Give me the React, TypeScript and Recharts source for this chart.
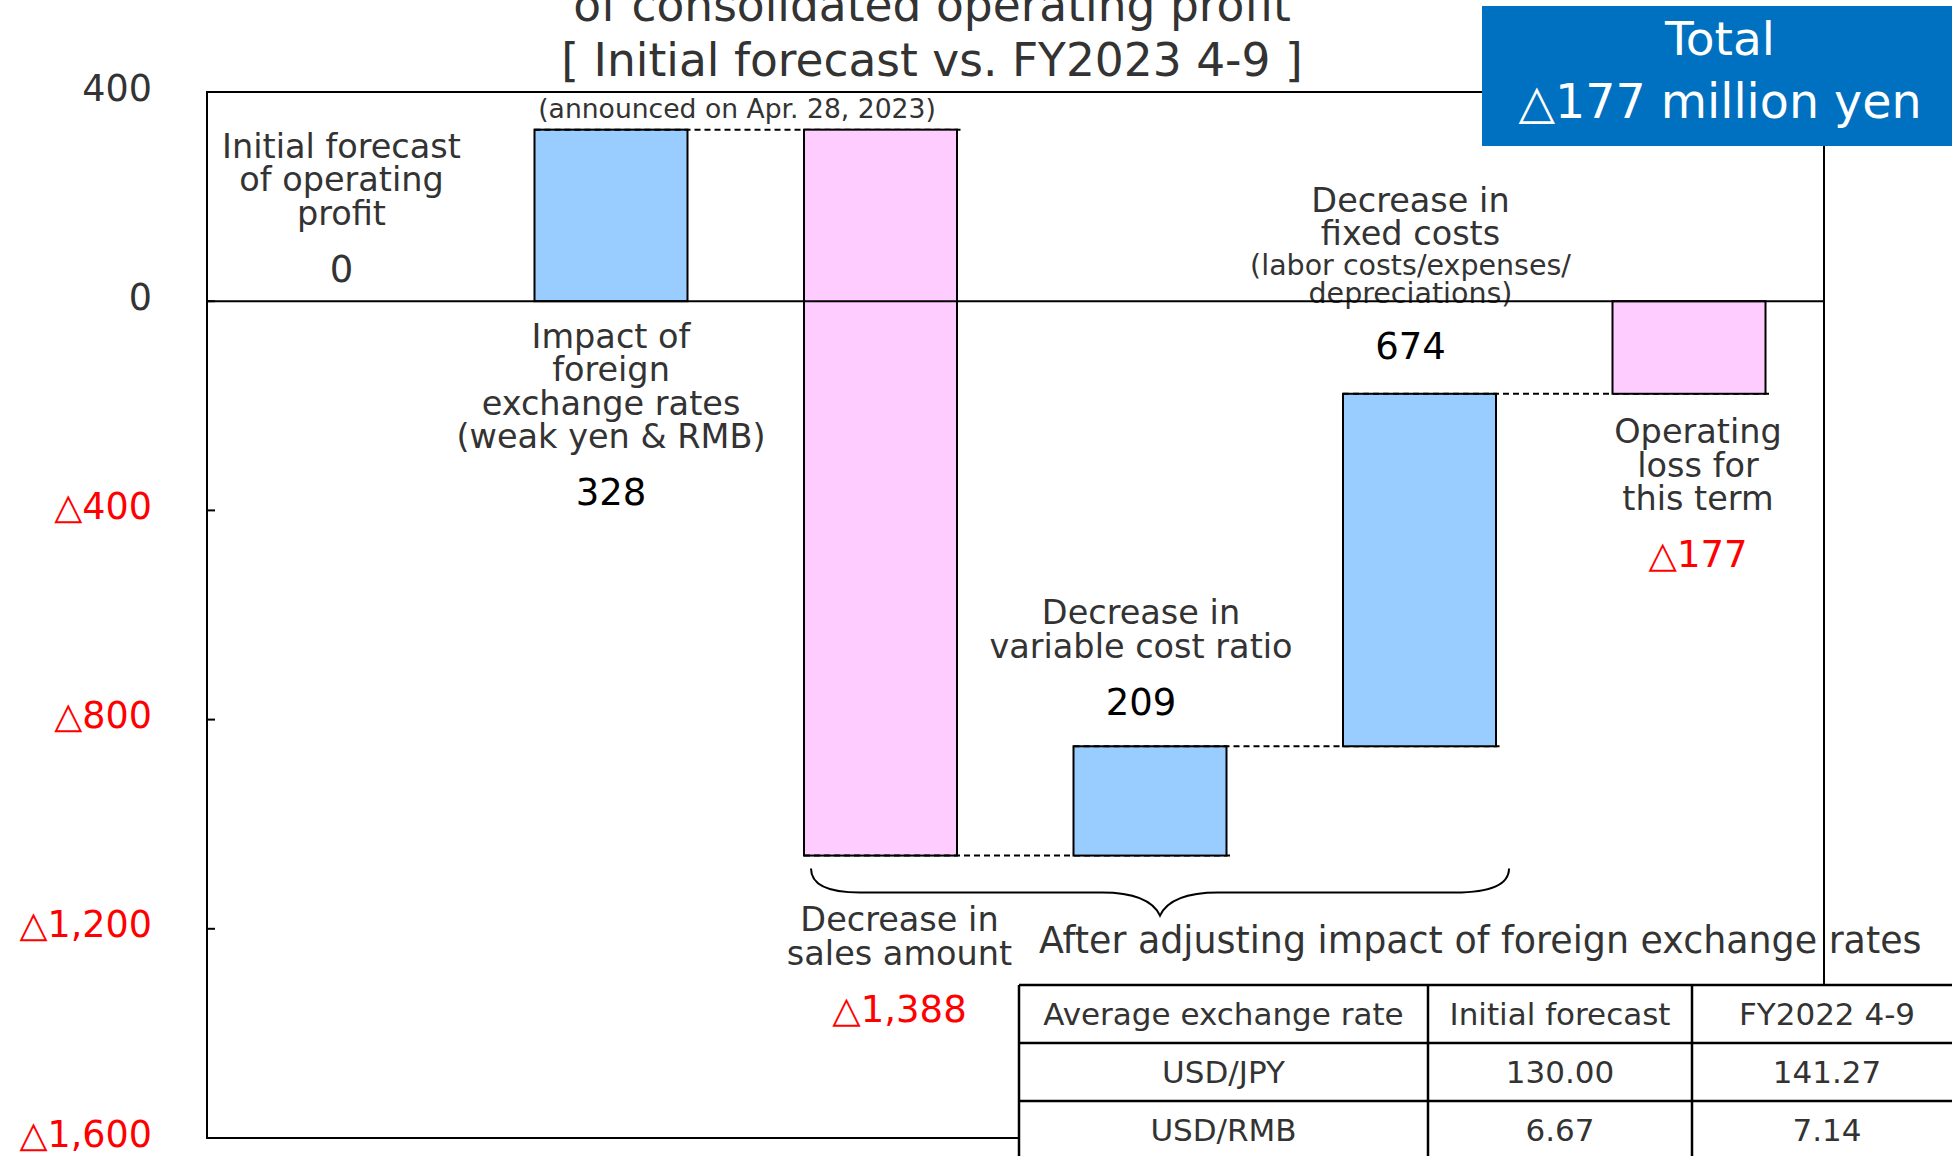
import { Bar, BarChart, ReferenceArea, ReferenceLine, XAxis, YAxis } from "recharts";

// waterfall steps: first and last are totals, the rest are changes
const categories = [
  "Initial forecast",
  "Foreign exchange",
  "Sales amount",
  "Variable cost ratio",
  "Fixed costs",
  "Operating loss",
];
const kinds = ["total", "delta", "delta", "delta", "delta", "total"];
const amounts = [0, 328, -1388, 209, 674, -177];

const labelLines = [
  ["Initial forecast", "of operating", "profit"],
  ["Impact of", "foreign", "exchange rates", "(weak yen & RMB)"],
  ["Decrease in", "sales amount"],
  ["Decrease in", "variable cost ratio"],
  ["Decrease in", "fixed costs"],
  ["Operating", "loss for", "this term"],
];
const noteLines = [[], [], [], [], ["(labor costs/expenses/", "depreciations)"], []];
const labelSide = ["above", "below", "below", "above", "above", "below"];

const yTicks = [400, 0, -400, -800, -1200, -1600];

const titleLines = ["of consolidated operating profit", "[ Initial forecast vs. FY2023 4-9 ]"];
const announced = "(announced on Apr. 28, 2023)";
const braceText = "After adjusting impact of foreign exchange rates";

const rateHeader = ["Average exchange rate", "Initial forecast", "FY2022 4-9"];
const ratePairs = ["USD/JPY", "USD/RMB"];
const rateForecast = ["130.00", "6.67"];
const rateActual = ["141.27", "7.14"];

// layout
const W = 1952;
const H = 1156;
const PLOT_LEFT = 207;
const PLOT_RIGHT = 1824;
const AXIS_W = 200;
const BAR_W = 153;
const STEP = (PLOT_RIGHT - PLOT_LEFT) / categories.length;
const labelGap = [32, 35, 64, 44, 47, 38];
const labelShift = [0, 0, 19, -9, -9, 9];

const FONT = "'DejaVu Sans', Verdana, sans-serif";
const GRAY = "#333333";
const RED = "#FF0000";
const BLUE = "#99CCFF";
const PINK = "#FFCCFF";

const fmt = (v: number) => (v < 0 ? "△" + Math.abs(v).toLocaleString("en-US") : String(v));

let running = 0;
const data = categories.map((name, i) => {
  let low: number;
  let high: number;
  if (kinds[i] === "total") {
    low = Math.min(0, amounts[i]);
    high = Math.max(0, amounts[i]);
    running = amounts[i];
  } else {
    const start = running;
    running += amounts[i];
    low = Math.min(start, running);
    high = Math.max(start, running);
  }
  return { name, amount: amounts[i], range: [low, high] };
});

function AxisTick(props: any) {
  const { x, y, payload } = props;
  const v = payload.value as number;
  return (
    <g>
      <line x1={x + 55} x2={x + 63} y1={y} y2={y} stroke="#000" strokeWidth={2} />
      <text
        x={x}
        y={y - 4}
        textAnchor="end"
        dominantBaseline="central"
        fontFamily={FONT}
        fontSize={36.5}
        fill={v < 0 ? RED : GRAY}
      >
        {fmt(v)}
      </text>
    </g>
  );
}

function StepLabels({ index, cx, top, bottom }: { index: number; cx: number; top: number; bottom: number }) {
  const amount = amounts[index];
  const valueColor = amount > 0 ? "#000" : amount < 0 ? RED : GRAY;
  const items: { text: string; y: number; size: number; color: string }[] = [];
  const lines = labelLines[index];
  const notes = noteLines[index];

  if (labelSide[index] === "above") {
    let cy = top - labelGap[index];
    items.push({ text: fmt(amount), y: cy, size: 37, color: valueColor });
    cy -= notes.length ? 53 : 56;
    for (let k = notes.length - 1; k >= 0; k--) {
      items.push({ text: notes[k], y: cy, size: 28.5, color: GRAY });
      cy -= k === 0 ? 32 : 28;
    }
    for (let k = lines.length - 1; k >= 0; k--) {
      items.push({ text: lines[k], y: cy, size: 33.5, color: GRAY });
      cy -= 33.5;
    }
  } else {
    let cy = bottom + labelGap[index];
    lines.forEach((t, k) => {
      items.push({ text: t, y: cy, size: 33.5, color: GRAY });
      if (k < lines.length - 1) cy += 33.5;
    });
    cy += 56;
    items.push({ text: fmt(amount), y: cy, size: 37, color: valueColor });
  }

  return (
    <g>
      {items.map((it, k) => (
        <text
          key={k}
          x={cx}
          y={it.y}
          textAnchor="middle"
          dominantBaseline="central"
          fontFamily={FONT}
          fontSize={it.size}
          fill={it.color}
        >
          {it.text}
        </text>
      ))}
    </g>
  );
}

function WaterfallBar(props: any) {
  const { x, y, width, height, index } = props;
  const amount = amounts[index];
  const top = Math.min(y, y + height);
  const bottom = Math.max(y, y + height);

  // brace under the "after FX adjustment" steps (bars 2..4)
  let brace = null;
  if (index === 2) {
    const l = x + 7;
    const r = x + 2 * STEP + width + 13;
    const m = (l + r) / 2;
    const y0 = bottom + 13;
    const y1 = bottom + 37;
    const y2 = bottom + 60;
    brace = (
      <g>
        <path
          d={`M ${l} ${y0} Q ${l} ${y1} ${l + 49} ${y1} L ${m - 58} ${y1} Q ${m - 11} ${y1} ${m} ${y2} Q ${m + 11} ${y1} ${m + 58} ${y1} L ${r - 54} ${y1} Q ${r} ${y1} ${r} ${y0}`}
          fill="none"
          stroke="#000"
          strokeWidth={2}
        />
        <text x={m - 121} y={y2 + 37} fontFamily={FONT} fontSize={36.4} fill={GRAY}>
          {braceText}
        </text>
      </g>
    );
  }

  return (
    <g>
      {bottom - top > 0.5 && (
        <rect
          x={x}
          y={top}
          width={width}
          height={bottom - top}
          fill={amount > 0 ? BLUE : PINK}
          stroke="#000"
          strokeWidth={2}
        />
      )}
      {kinds[index] === "delta" && (
        <line
          x1={x}
          x2={x + STEP + width + 4}
          y1={amount > 0 ? top : bottom}
          y2={amount > 0 ? top : bottom}
          stroke="#000"
          strokeWidth={2}
          strokeDasharray="6 4"
        />
      )}
      <StepLabels index={index} cx={x + width / 2 + labelShift[index]} top={top} bottom={bottom} />
      {brace}
    </g>
  );
}

function Overlay() {
  const total = amounts[amounts.length - 1];
  const cols = [1019, 1428, 1692, 1962];
  const rows = [985, 1043, 1101, 1159];
  const tableRows = [rateHeader, ...ratePairs.map((p, i) => [p, rateForecast[i], rateActual[i]])];
  return (
    <svg
      width={W}
      height={H}
      style={{ position: "absolute", left: 0, top: 0, pointerEvents: "none" }}
    >
      {titleLines.map((t, i) => (
        <text
          key={t}
          x={932}
          y={21 + i * 55}
          textAnchor="middle"
          fontFamily={FONT}
          fontSize={45.5}
          fill={GRAY}
        >
          {t}
        </text>
      ))}
      <text x={737} y={118} textAnchor="middle" fontFamily={FONT} fontSize={26.6} fill={GRAY}>
        {announced}
      </text>

      <rect x={1482} y={6} width={470} height={140} fill="#0070C0" />
      <text x={1720} y={55} textAnchor="middle" fontFamily={FONT} fontSize={47} fill="#fff">
        Total
      </text>
      <text x={1720} y={118} textAnchor="middle" fontFamily={FONT} fontSize={47.5} fill="#fff">
        {fmt(total) + " million yen"}
      </text>

      <rect x={cols[0]} y={rows[0]} width={cols[3] - cols[0]} height={rows[3] - rows[0]} fill="#fff" />
      {rows.map((ry) => (
        <line key={"h" + ry} x1={cols[0]} x2={cols[3]} y1={ry} y2={ry} stroke="#000" strokeWidth={2.5} />
      ))}
      {cols.map((cx) => (
        <line key={"v" + cx} x1={cx} x2={cx} y1={rows[0]} y2={rows[3]} stroke="#000" strokeWidth={2.5} />
      ))}
      {tableRows.map((row, r) =>
        row.map((cell, c) => (
          <text
            key={r + "-" + c}
            x={(cols[c] + cols[c + 1]) / 2}
            y={(rows[r] + rows[r + 1]) / 2}
            textAnchor="middle"
            dominantBaseline="central"
            fontFamily={FONT}
            fontSize={31}
            fill={GRAY}
          >
            {cell}
          </text>
        )),
      )}
    </svg>
  );
}

export default function App() {
  return (
    <div
      style={{
        position: "absolute",
        left: 0,
        top: 0,
        width: W,
        height: H,
        background: "#fff",
        overflow: "hidden",
      }}
    >
      <BarChart
        width={W}
        height={H}
        data={data}
        margin={{ top: 92, right: W - PLOT_RIGHT, bottom: 18, left: PLOT_LEFT - AXIS_W }}
      >
        <XAxis dataKey="name" tick={false} tickLine={false} axisLine={false} height={0} />
        <YAxis
          type="number"
          domain={[-1600, 400]}
          ticks={yTicks}
          interval={0}
          width={AXIS_W}
          axisLine={false}
          tickLine={false}
          tickSize={0}
          tickMargin={55}
          tick={AxisTick}
        />
        <ReferenceArea y1={-1600} y2={400} fill="none" stroke="#000" strokeWidth={2} />
        <ReferenceLine y={0} stroke="#000" strokeWidth={2} />
        <Bar
          dataKey={(d: any) => d.range}
          barSize={BAR_W}
          shape={WaterfallBar}
          isAnimationActive={false}
        />
      </BarChart>
      <Overlay />
    </div>
  );
}
